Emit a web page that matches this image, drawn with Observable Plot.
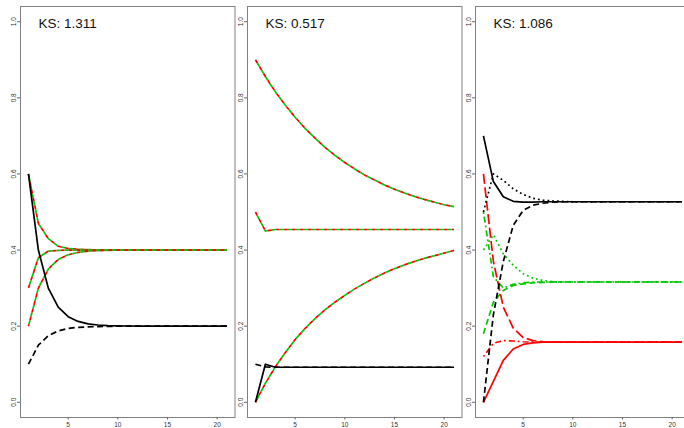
<!DOCTYPE html>
<html>
<head>
<meta charset="utf-8">
<script src="https://cdn.jsdelivr.net/npm/d3@7"></script>
<script src="https://cdn.jsdelivr.net/npm/@observablehq/plot@0.6"></script>
<style>
  body { margin: 0; background: #fff; }
  #wrap { position: relative; width: 684px; height: 428px; overflow: hidden; background: #fff; }
  #wrap > svg { position: absolute; top: 0; }
</style>
</head>
<body>
<div id="wrap"></div>
<script>
// ---------- data ----------
const steps = [1, 2, 3, 4, 5, 6, 7, 8, 9, 10, 11, 12, 13, 14, 15, 16, 17, 18, 19, 20, 21];
const xTicks = [5, 10, 15, 20];
const yTicks = [0, 0.2, 0.4, 0.6, 0.8, 1.0];
const panelTitles = ["KS: 1.311", "KS: 0.517", "KS: 1.086"];

// panel 1
const p1BlackSolid  = [0.6, 0.4, 0.3, 0.25, 0.225, 0.2125, 0.206, 0.203, 0.2016, 0.2008, 0.2004, 0.2002, 0.2001, 0.2, 0.2, 0.2, 0.2, 0.2, 0.2, 0.2, 0.2];
const p1BlackDashed = [0.1, 0.15, 0.175, 0.1875, 0.194, 0.197, 0.198, 0.199, 0.1996, 0.1998, 0.1999, 0.2, 0.2, 0.2, 0.2, 0.2, 0.2, 0.2, 0.2, 0.2, 0.2];
const p1Top         = [0.6, 0.47, 0.43, 0.41, 0.404, 0.402, 0.401, 0.4005, 0.4, 0.4, 0.4, 0.4, 0.4, 0.4, 0.4, 0.4, 0.4, 0.4, 0.4, 0.4, 0.4];
const p1Mid         = [0.3, 0.38, 0.397, 0.399, 0.4, 0.4, 0.4, 0.4, 0.4, 0.4, 0.4, 0.4, 0.4, 0.4, 0.4, 0.4, 0.4, 0.4, 0.4, 0.4, 0.4];
const p1Low         = [0.2, 0.3, 0.35, 0.375, 0.3875, 0.394, 0.397, 0.3985, 0.399, 0.4, 0.4, 0.4, 0.4, 0.4, 0.4, 0.4, 0.4, 0.4, 0.4, 0.4, 0.4];

// panel 2
const p2Top         = [0.9, 0.856, 0.816, 0.781, 0.749, 0.72, 0.694, 0.67, 0.649, 0.63, 0.613, 0.597, 0.584, 0.571, 0.56, 0.55, 0.541, 0.533, 0.526, 0.519, 0.514];
const p2Mid         = [0.5, 0.45, 0.454, 0.454, 0.454, 0.454, 0.454, 0.454, 0.454, 0.454, 0.454, 0.454, 0.454, 0.454, 0.454, 0.454, 0.454, 0.454, 0.454, 0.454, 0.454];
const p2Bottom      = [0, 0.05, 0.093, 0.13, 0.165, 0.194, 0.22, 0.243, 0.263, 0.281, 0.298, 0.313, 0.327, 0.34, 0.351, 0.361, 0.37, 0.378, 0.385, 0.392, 0.399];
const p2BlackSolid  = [0, 0.1, 0.092, 0.092, 0.092, 0.092, 0.092, 0.092, 0.092, 0.092, 0.092, 0.092, 0.092, 0.092, 0.092, 0.092, 0.092, 0.092, 0.092, 0.092, 0.092];
const p2BlackDashed = [0.1, 0.093, 0.092, 0.092, 0.092, 0.092, 0.092, 0.092, 0.092, 0.092, 0.092, 0.092, 0.092, 0.092, 0.092, 0.092, 0.092, 0.092, 0.092, 0.092, 0.092];

// panel 3
const p3BlackSolid   = [0.7, 0.58, 0.54, 0.528, 0.526, 0.526, 0.527, 0.527, 0.527, 0.527, 0.527, 0.527, 0.527, 0.527, 0.527, 0.527, 0.527, 0.527, 0.527, 0.527, 0.527];
const p3BlackDotted  = [0.5, 0.6, 0.583, 0.561, 0.546, 0.536, 0.531, 0.529, 0.528, 0.527, 0.527, 0.527, 0.527, 0.527, 0.527, 0.527, 0.527, 0.527, 0.527, 0.527, 0.527];
const p3BlackDashed  = [0, 0.23, 0.37, 0.465, 0.504, 0.518, 0.523, 0.526, 0.527, 0.527, 0.527, 0.527, 0.527, 0.527, 0.527, 0.527, 0.527, 0.527, 0.527, 0.527, 0.527];
const p3RedSolid     = [0, 0.055, 0.11, 0.14, 0.152, 0.156, 0.158, 0.158, 0.158, 0.158, 0.158, 0.158, 0.158, 0.158, 0.158, 0.158, 0.158, 0.158, 0.158, 0.158, 0.158];
const p3RedDotDash   = [0.12, 0.155, 0.162, 0.161, 0.159, 0.158, 0.158, 0.158, 0.158, 0.158, 0.158, 0.158, 0.158, 0.158, 0.158, 0.158, 0.158, 0.158, 0.158, 0.158, 0.158];
const p3RedLongDash  = [0.6, 0.37, 0.25, 0.195, 0.17, 0.162, 0.159, 0.158, 0.158, 0.158, 0.158, 0.158, 0.158, 0.158, 0.158, 0.158, 0.158, 0.158, 0.158, 0.158, 0.158];
const p3GreenDotted  = [0.4, 0.44, 0.39, 0.36, 0.338, 0.326, 0.32, 0.317, 0.316, 0.316, 0.316, 0.316, 0.316, 0.316, 0.316, 0.316, 0.316, 0.316, 0.316, 0.316, 0.316];
const p3GreenDashed  = [0.18, 0.263, 0.294, 0.307, 0.311, 0.314, 0.315, 0.316, 0.316, 0.316, 0.316, 0.316, 0.316, 0.316, 0.316, 0.316, 0.316, 0.316, 0.316, 0.316, 0.316];
const p3GreenDotDash = [0.5, 0.33, 0.3, 0.31, 0.314, 0.316, 0.316, 0.316, 0.316, 0.316, 0.316, 0.316, 0.316, 0.316, 0.316, 0.316, 0.316, 0.316, 0.316, 0.316, 0.316];

// ---------- styles (kept apart from the data) ----------
const RED = "#ff0000", GREEN = "#00c800", BLACK = "#000000";
const DASH = "6,3.5", DOT = "1.8,3", DOTDASH = "1.8,3,6,3", LONGDASH = "10,3.5", ALT = "4,4";

// each panel: list of [values, color, dasharray, dashoffset]
const panels = [
  [
    [p1Top, RED, ALT, 0], [p1Top, GREEN, ALT, 4],
    [p1Mid, RED, ALT, 0], [p1Mid, GREEN, ALT, 4],
    [p1Low, RED, ALT, 2], [p1Low, GREEN, ALT, 6],
    [p1BlackSolid, BLACK, null, 0],
    [p1BlackDashed, BLACK, DASH, 0]
  ],
  [
    [p2Top, RED, ALT, 0], [p2Top, GREEN, ALT, 4],
    [p2Mid, RED, ALT, 0], [p2Mid, GREEN, ALT, 4],
    [p2Bottom, RED, ALT, 0], [p2Bottom, GREEN, ALT, 4],
    [p2BlackSolid, BLACK, null, 0],
    [p2BlackDashed, BLACK, DASH, 0]
  ],
  [
    [p3GreenDotted, GREEN, DOT, 0],
    [p3GreenDashed, GREEN, DASH, 0],
    [p3GreenDotDash, GREEN, DOTDASH, 0],
    [p3RedSolid, RED, null, 0],
    [p3RedDotDash, RED, DOTDASH, 0],
    [p3RedLongDash, RED, LONGDASH, 0],
    [p3BlackSolid, BLACK, null, 0],
    [p3BlackDotted, BLACK, DOT, 0],
    [p3BlackDashed, BLACK, DASH, 0]
  ]
];

const wrap = document.getElementById("wrap");
const FONT = "'Liberation Sans', Arial, Helvetica, sans-serif";

panels.forEach((series, i) => {
  const lines = series.map(([vals, color, dash, off]) =>
    Plot.line(steps.map((s, k) => ({x: s, y: vals[k]})), {
      x: "x", y: "y", stroke: color, strokeWidth: 1.7,
      strokeDasharray: dash || undefined, strokeDashoffset: off,
      strokeLinejoin: "round", strokeLinecap: "butt"
    })
  );
  const svg = Plot.plot({
    width: 235, height: 428,
    marginLeft: 20, marginRight: 0.5, marginTop: 6, marginBottom: 11,
    style: {background: "transparent", overflow: "visible", fontFamily: FONT, fontSize: "6.5px", color: "#333"},
    x: {domain: [0.2, 21.8]},
    y: {domain: [-0.04, 1.04]},
    marks: [
      Plot.frame({stroke: "#808080"}),
      Plot.axisX({ticks: xTicks, tickSize: 2.5, tickPadding: 2.5, stroke: "#666", fill: "#333", label: null, fontSize: 6.5}),
      Plot.axisY({ticks: yTicks, tickSize: 3, tickPadding: 2, tickRotate: -90, tickFormat: d3.format(".1f"), stroke: "#666", fill: "#333", label: null, fontSize: 6.5}),
      ...lines,
      Plot.text([panelTitles[i]], {text: d => d, frameAnchor: "top-left", dx: 18, dy: 11.5,
        textAnchor: "start", lineAnchor: "top", fontSize: 13.5, fill: "#111"})
    ]
  });
  svg.style.left = (i * 227.4) + "px";
  wrap.appendChild(svg);
});
</script>
</body>
</html>
